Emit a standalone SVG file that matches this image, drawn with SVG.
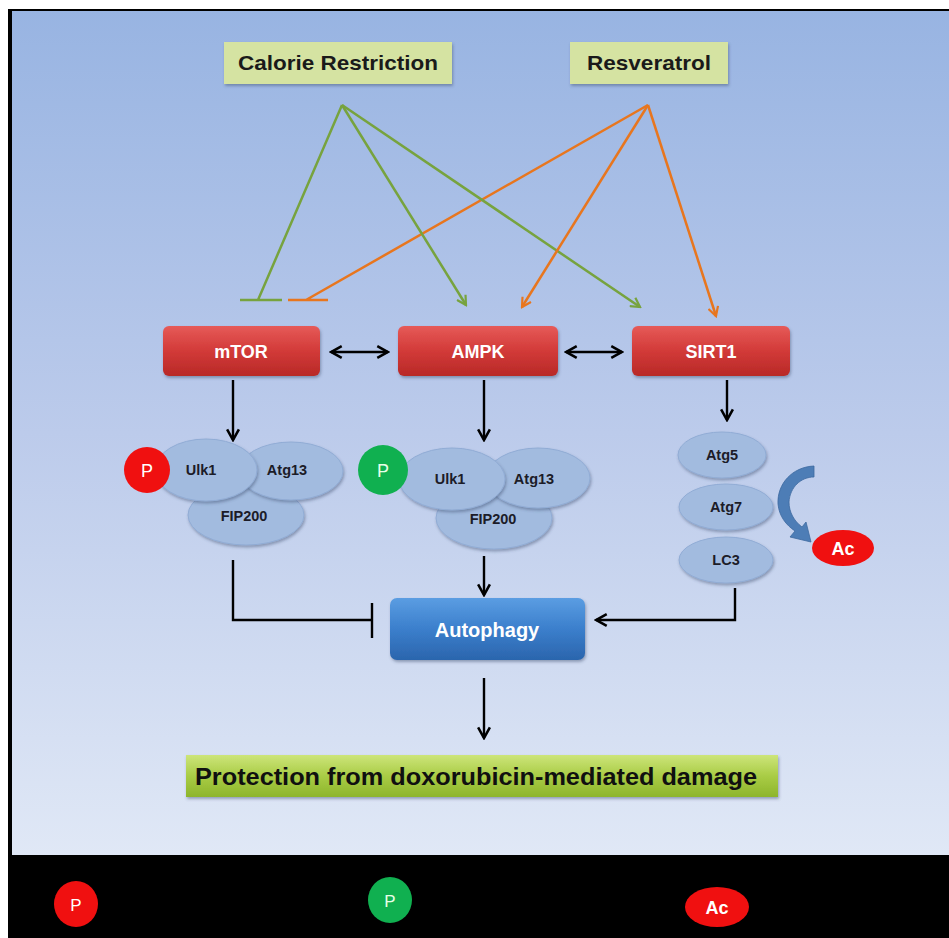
<svg xmlns="http://www.w3.org/2000/svg" width="949" height="938" viewBox="0 0 949 938">
<defs>
<linearGradient id="bg" x1="0" y1="0" x2="0" y2="1">
<stop offset="0" stop-color="#98b4e2"/>
<stop offset="0.5" stop-color="#bccbeb"/>
<stop offset="1" stop-color="#e0e8f6"/>
</linearGradient>
<linearGradient id="red" x1="0" y1="0" x2="0" y2="1">
<stop offset="0" stop-color="#e65a58"/>
<stop offset="0.5" stop-color="#d23a38"/>
<stop offset="1" stop-color="#b82927"/>
</linearGradient>
<linearGradient id="blue" x1="0" y1="0" x2="0" y2="1">
<stop offset="0" stop-color="#5b9de2"/>
<stop offset="0.5" stop-color="#3b7fcc"/>
<stop offset="1" stop-color="#2b65ad"/>
</linearGradient>
<linearGradient id="green" x1="0" y1="0" x2="0" y2="1">
<stop offset="0" stop-color="#cde57a"/>
<stop offset="0.5" stop-color="#a9cc45"/>
<stop offset="1" stop-color="#8db52c"/>
</linearGradient>
<filter id="sh" x="-10%" y="-20%" width="120%" height="150%">
<feDropShadow dx="1" dy="2" stdDeviation="1.5" flood-color="#3a4a6a" flood-opacity="0.45"/>
</filter>
<marker id="ag" viewBox="0 0 12 12" refX="10" refY="6" markerWidth="12" markerHeight="12" markerUnits="userSpaceOnUse" orient="auto">
<path d="M1 1 L10 6 L1 11" fill="none" stroke="#77a33e" stroke-width="2.2"/>
</marker>
<marker id="ao" viewBox="0 0 12 12" refX="10" refY="6" markerWidth="12" markerHeight="12" markerUnits="userSpaceOnUse" orient="auto">
<path d="M1 1 L10 6 L1 11" fill="none" stroke="#e8761e" stroke-width="2.2"/>
</marker>
<marker id="ab" viewBox="0 0 14 14" refX="12" refY="7" markerWidth="15" markerHeight="15" markerUnits="userSpaceOnUse" orient="auto-start-reverse">
<path d="M2 1.5 L12 7 L2 12.5" fill="none" stroke="#000" stroke-width="2.4"/>
</marker>
</defs>
<style>
.t{font-family:"Liberation Sans",Arial,sans-serif;font-weight:bold;text-anchor:middle}
.lg{stroke:#77a33e;stroke-width:2.5;fill:none}
.lo{stroke:#e8761e;stroke-width:2.5;fill:none}
.lb{stroke:#000;stroke-width:2.4;fill:none}
.ell{fill:#a2bbdf;stroke:#91acd5;stroke-width:1}
.dk{fill:#1c1c28;font-size:14.5px}
.wh{fill:#fff}
</style>
<rect x="0" y="0" width="949" height="938" fill="#fff"/>
<rect x="8" y="9" width="941" height="929" fill="#000"/>
<rect x="12" y="11" width="937" height="844" fill="url(#bg)"/>
<g id="connectors">
<path class="lg" d="M342 105 L258 300 M240 300 L282 300"/>
<path class="lo" d="M648 105 L306 300 M288 300 L328 300"/>
<path class="lg" d="M342 105 L466 305" marker-end="url(#ag)"/>
<path class="lg" d="M342 105 L640 307" marker-end="url(#ag)"/>
<path class="lo" d="M648 105 L522 307" marker-end="url(#ao)"/>
<path class="lo" d="M648 105 L716 316" marker-end="url(#ao)"/>
<path class="lb" d="M331 352 L388 352" marker-start="url(#ab)" marker-end="url(#ab)"/>
<path class="lb" d="M566 352 L622 352" marker-start="url(#ab)" marker-end="url(#ab)"/>
<path class="lb" d="M233 380 L233 440" marker-end="url(#ab)"/>
<path class="lb" d="M484 380 L484 440" marker-end="url(#ab)"/>
<path class="lb" d="M727 380 L727 420" marker-end="url(#ab)"/>
<path class="lb" d="M233 560 L233 620 L371 620 M372 603 L372 638"/>
<path class="lb" d="M484 556 L484 595" marker-end="url(#ab)"/>
<path class="lb" d="M735 588 L735 620 L596 620" marker-end="url(#ab)"/>
<path class="lb" d="M484 678 L484 738" marker-end="url(#ab)"/>
<path d="M814 466 C792 467 777 484 778 504 C779 516 786 525 795 531 L790 537 L811 542 L806 522 L802 527 C794 521 789 512 789 502 C790 487 801 477 814 477 Z" fill="#4d7db6" stroke="#3d6aa0" stroke-width="0.8"/>
</g>
<g id="calorie">
<rect x="224" y="42" width="228" height="42" fill="#d5e3a2" filter="url(#sh)"/>
<text class="t" x="338" y="70" font-size="21" fill="#1a1a1a" textLength="200" lengthAdjust="spacingAndGlyphs">Calorie Restriction</text>
</g>
<g id="resveratrol">
<rect x="570" y="42" width="158" height="42" fill="#d5e3a2" filter="url(#sh)"/>
<text class="t" x="649" y="70" font-size="21" fill="#1a1a1a" textLength="124" lengthAdjust="spacingAndGlyphs">Resveratrol</text>
</g>
<g id="mtor">
<rect x="163" y="326" width="157" height="50" rx="6" fill="url(#red)" filter="url(#sh)"/>
<text class="t wh" x="241" y="358" font-size="18">mTOR</text>
</g>
<g id="ampk">
<rect x="398" y="326" width="160" height="50" rx="6" fill="url(#red)" filter="url(#sh)"/>
<text class="t wh" x="478" y="358" font-size="18">AMPK</text>
</g>
<g id="sirt1">
<rect x="632" y="326" width="158" height="50" rx="6" fill="url(#red)" filter="url(#sh)"/>
<text class="t wh" x="711" y="358" font-size="18">SIRT1</text>
</g>
<g id="complex-mtor">
<ellipse class="ell" cx="246" cy="515" rx="58" ry="30" filter="url(#sh)"/>
<ellipse class="ell" cx="291" cy="471" rx="52" ry="29" filter="url(#sh)"/>
<ellipse class="ell" cx="206" cy="470" rx="51" ry="31" filter="url(#sh)"/>
<circle cx="147" cy="470" r="23" fill="#f01010"/>
<text class="t wh" x="147" y="477" font-size="18" style="font-weight:normal">P</text>
<text class="t dk" x="201" y="475">Ulk1</text>
<text class="t dk" x="287" y="475">Atg13</text>
<text class="t dk" x="244" y="521">FIP200</text>
</g>
<g id="complex-ampk">
<ellipse class="ell" cx="494" cy="518" rx="58" ry="31" filter="url(#sh)"/>
<ellipse class="ell" cx="538" cy="478" rx="52" ry="30" filter="url(#sh)"/>
<ellipse class="ell" cx="452" cy="479" rx="53" ry="31" filter="url(#sh)"/>
<circle cx="383" cy="470" r="25" fill="#10b050"/>
<text class="t" x="383" y="477" font-size="18" fill="#e8ffe8" style="font-weight:normal">P</text>
<text class="t dk" x="450" y="484">Ulk1</text>
<text class="t dk" x="534" y="484">Atg13</text>
<text class="t dk" x="493" y="524">FIP200</text>
</g>
<g id="atg5">
<ellipse class="ell" cx="722" cy="455" rx="44" ry="23" filter="url(#sh)"/>
<text class="t dk" x="722" y="460">Atg5</text>
</g>
<g id="atg7">
<ellipse class="ell" cx="726" cy="507" rx="47" ry="23" filter="url(#sh)"/>
<text class="t dk" x="726" y="512">Atg7</text>
</g>
<g id="lc3">
<ellipse class="ell" cx="726" cy="560" rx="47" ry="23" filter="url(#sh)"/>
<text class="t dk" x="726" y="565">LC3</text>
</g>
<g id="ac">
<ellipse cx="843" cy="548" rx="31" ry="18" fill="#f01010"/>
<text class="t wh" x="843" y="555" font-size="18">Ac</text>
</g>
<g id="autophagy">
<rect x="390" y="598" width="195" height="62" rx="7" fill="url(#blue)" filter="url(#sh)"/>
<text class="t wh" x="487" y="637" font-size="20">Autophagy</text>
</g>
<g id="protection">
<rect x="186" y="755" width="592" height="42" fill="url(#green)" filter="url(#sh)"/>
<text class="t" x="476" y="785" font-size="23" fill="#101010" textLength="562" lengthAdjust="spacingAndGlyphs">Protection from doxorubicin-mediated damage</text>
</g>
<g id="legend">
<ellipse cx="76" cy="904" rx="22" ry="23" fill="#f01010"/>
<text class="t" x="76" y="911" font-size="17" fill="#fff" style="font-weight:normal">P</text>
<ellipse cx="390" cy="900" rx="22" ry="23" fill="#10b050"/>
<text class="t" x="390" y="907" font-size="17" fill="#e8ffe8" style="font-weight:normal">P</text>
<ellipse cx="717" cy="907" rx="32" ry="20" fill="#f01010"/>
<text class="t wh" x="717" y="914" font-size="18">Ac</text>
</g>
</svg>
